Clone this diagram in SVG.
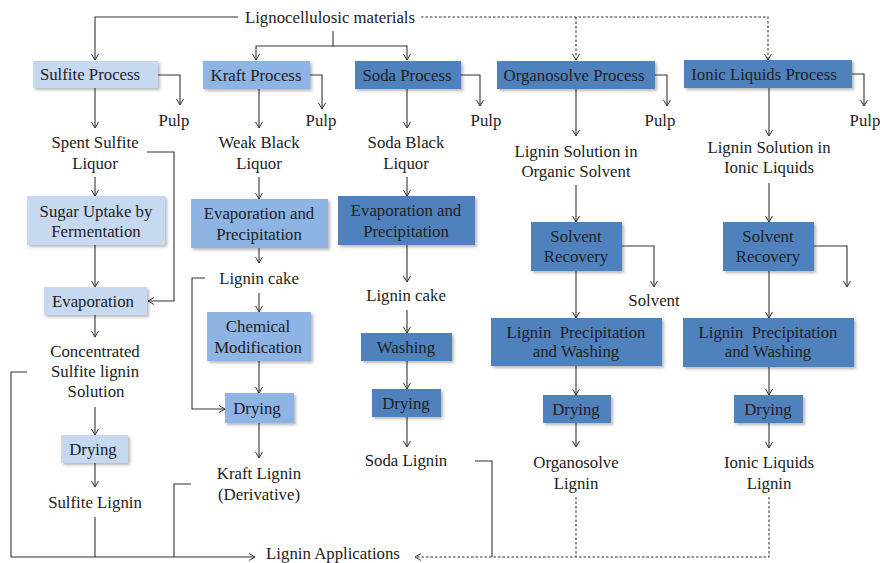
<svg xmlns="http://www.w3.org/2000/svg" width="880" height="563" viewBox="0 0 880 563" font-family="'Liberation Serif', 'DejaVu Serif', serif">
<style>
text{font-family:'Liberation Serif','DejaVu Serif',serif;font-size:16.8px;fill:#222;text-anchor:middle}
.c path{fill:none;stroke:#333;stroke-width:1.1}
.c .d{stroke-dasharray:2.5,2}
.l{fill:#C6D9F1}
.m{fill:#8EB4E3}
.k{fill:#4F81BD}
rect{filter:url(#sh)}
</style>
<defs>
<filter id="sh" x="-10%" y="-15%" width="130%" height="150%">
<feDropShadow dx="2" dy="2" stdDeviation="1.5" flood-color="#000" flood-opacity="0.28"/>
</filter>
<marker id="a" viewBox="0 0 6 8" refX="6" refY="4" markerWidth="6" markerHeight="8" markerUnits="userSpaceOnUse" orient="auto">
<path d="M0,0.5 L6,4 L0,7.5" fill="none" stroke="#333" stroke-width="1"/>
</marker>
</defs>

<g id="connectors" class="c">
<path d="M238,17 H95 V60" marker-end="url(#a)"/>
<path d="M333,31 V46 H256 V60" marker-end="url(#a)"/>
<path d="M333,46 H407 V60" marker-end="url(#a)"/>
<path class="d" d="M421,17 H768 V60" marker-end="url(#a)"/>
<path class="d" d="M576,17 V60" marker-end="url(#a)"/>
<path d="M158,75 H180 V105" marker-end="url(#a)"/>
<path d="M310,75 H322 V109" marker-end="url(#a)"/>
<path d="M461,75 H480 V106" marker-end="url(#a)"/>
<path d="M655,75 H667 V106" marker-end="url(#a)"/>
<path d="M852,74 H864 V106" marker-end="url(#a)"/>
<path d="M95,88 V128" marker-end="url(#a)"/>
<path d="M95,177 V196" marker-end="url(#a)"/>
<path d="M95,245 V287" marker-end="url(#a)"/>
<path d="M147,152 H174 V301 H148" marker-end="url(#a)"/>
<path d="M95,315 V337" marker-end="url(#a)"/>
<path d="M95,407 V435" marker-end="url(#a)"/>
<path d="M95,463 V487" marker-end="url(#a)"/>
<path d="M95,517 V557"/>
<path d="M27,372 H11 V557 H255" marker-end="url(#a)"/>
<path d="M191,484 H174 V557"/>
<path d="M259,89 V128" marker-end="url(#a)"/>
<path d="M259,177 V199" marker-end="url(#a)"/>
<path d="M259,248 V263" marker-end="url(#a)"/>
<path d="M259,293 V312" marker-end="url(#a)"/>
<path d="M259,361 V393" marker-end="url(#a)"/>
<path d="M205,278 H192 V409 H225" marker-end="url(#a)"/>
<path d="M259,423 V458" marker-end="url(#a)"/>
<path d="M407,89 V128" marker-end="url(#a)"/>
<path d="M407,177 V196" marker-end="url(#a)"/>
<path d="M407,245 V282" marker-end="url(#a)"/>
<path d="M407,310 V333" marker-end="url(#a)"/>
<path d="M407,361 V389" marker-end="url(#a)"/>
<path d="M407,417 V447" marker-end="url(#a)"/>
<path d="M475,461 H492 V557"/>
<path d="M576,89 V136" marker-end="url(#a)"/>
<path d="M576,185 V222" marker-end="url(#a)"/>
<path d="M622,246 H654 V287" marker-end="url(#a)"/>
<path d="M576,271 V318" marker-end="url(#a)"/>
<path d="M576,366 V395" marker-end="url(#a)"/>
<path d="M576,423 V447" marker-end="url(#a)"/>
<path class="d" d="M576,497 V557"/>
<path d="M769,88 V136" marker-end="url(#a)"/>
<path d="M769,183 V222" marker-end="url(#a)"/>
<path d="M814,246 H847 V287" marker-end="url(#a)"/>
<path d="M769,271 V318" marker-end="url(#a)"/>
<path d="M769,367 V395" marker-end="url(#a)"/>
<path d="M769,423 V448" marker-end="url(#a)"/>
<path class="d" d="M769,497 V557 H415" marker-end="url(#a)"/>
</g>

<g id="lignocellulosic"><text x="330" y="23">Lignocellulosic materials</text></g>
<g id="applications"><text x="333" y="559">Lignin Applications</text></g>

<g id="sulfite-process"><rect class="l" x="33" y="61" width="125" height="27"/><text x="90" y="80">Sulfite Process</text></g>
<g id="kraft-process"><rect class="m" x="203" y="61" width="107" height="28"/><text x="256" y="81">Kraft Process</text></g>
<g id="soda-process"><rect class="k" x="355" y="61" width="106" height="28"/><text x="407" y="81">Soda Process</text></g>
<g id="organosolve-process"><rect class="k" x="497" y="61" width="158" height="28"/><text x="574" y="81">Organosolve Process</text></g>
<g id="ionic-process"><rect class="k" x="684" y="60" width="168" height="28"/><text x="764" y="80">Ionic Liquids Process</text></g>

<g id="pulp1"><text x="174" y="126">Pulp</text></g>
<g id="pulp2"><text x="321" y="126">Pulp</text></g>
<g id="pulp3"><text x="486" y="126">Pulp</text></g>
<g id="pulp4"><text x="660" y="126">Pulp</text></g>
<g id="pulp5"><text x="865" y="126">Pulp</text></g>

<g id="spent-sulfite"><text x="95" y="148">Spent Sulfite</text><text x="95" y="169">Liquor</text></g>
<g id="sugar-uptake"><rect class="l" x="27" y="196" width="138" height="49"/><text x="96" y="217">Sugar Uptake by</text><text x="96" y="237">Fermentation</text></g>
<g id="evaporation"><rect class="l" x="44" y="287" width="103" height="28"/><text x="93" y="307">Evaporation</text></g>
<g id="concentrated"><text x="95" y="357">Concentrated</text><text x="95" y="377">Sulfite lignin</text><text x="96" y="397">Solution</text></g>
<g id="drying-sulfite"><rect class="l" x="61" y="435" width="67" height="28"/><text x="93" y="455">Drying</text></g>
<g id="sulfite-lignin"><text x="95" y="508">Sulfite Lignin</text></g>

<g id="weak-black"><text x="259" y="148">Weak Black</text><text x="259" y="169">Liquor</text></g>
<g id="evap-kraft"><rect class="m" x="191" y="199" width="137" height="49"/><text x="259" y="219">Evaporation and</text><text x="259" y="240">Precipitation</text></g>
<g id="cake-kraft"><text x="259" y="284">Lignin cake</text></g>
<g id="chemical"><rect class="m" x="207" y="312" width="104" height="49"/><text x="258" y="332">Chemical</text><text x="258" y="353">Modification</text></g>
<g id="drying-kraft"><rect class="m" x="225" y="393" width="69" height="30"/><text x="257" y="414">Drying</text></g>
<g id="kraft-lignin"><text x="259" y="479">Kraft Lignin</text><text x="259" y="500">(Derivative)</text></g>

<g id="soda-black"><text x="406" y="148">Soda Black</text><text x="406" y="169">Liquor</text></g>
<g id="evap-soda"><rect class="k" x="338" y="196" width="137" height="49"/><text x="406" y="216">Evaporation and</text><text x="406" y="237">Precipitation</text></g>
<g id="cake-soda"><text x="406" y="301">Lignin cake</text></g>
<g id="washing"><rect class="k" x="361" y="333" width="91" height="28"/><text x="406" y="353">Washing</text></g>
<g id="drying-soda"><rect class="k" x="372" y="389" width="69" height="28"/><text x="406" y="409">Drying</text></g>
<g id="soda-lignin"><text x="406" y="466">Soda Lignin</text></g>

<g id="sol-organic"><text x="576" y="157">Lignin Solution in</text><text x="576" y="177">Organic Solvent</text></g>
<g id="recovery-org"><rect class="k" x="531" y="222" width="91" height="49"/><text x="576" y="242">Solvent</text><text x="576" y="262">Recovery</text></g>
<g id="solvent"><text x="654" y="306">Solvent</text></g>
<g id="precip-org"><rect class="k" x="491" y="318" width="171" height="48"/><text x="576" y="338" xml:space="preserve">Lignin  Precipitation</text><text x="576" y="357">and Washing</text></g>
<g id="drying-org"><rect class="k" x="543" y="395" width="68" height="28"/><text x="576" y="415">Drying</text></g>
<g id="organosolve-lignin"><text x="576" y="468">Organosolve</text><text x="576" y="489">Lignin</text></g>

<g id="sol-ionic"><text x="769" y="153">Lignin Solution in</text><text x="769" y="173">Ionic Liquids</text></g>
<g id="recovery-ionic"><rect class="k" x="723" y="222" width="91" height="49"/><text x="768" y="242">Solvent</text><text x="768" y="262">Recovery</text></g>
<g id="precip-ionic"><rect class="k" x="683" y="318" width="171" height="49"/><text x="768" y="338" xml:space="preserve">Lignin  Precipitation</text><text x="768" y="357">and Washing</text></g>
<g id="drying-ionic"><rect class="k" x="734" y="395" width="69" height="28"/><text x="768" y="415">Drying</text></g>
<g id="ionic-lignin"><text x="769" y="468">Ionic Liquids</text><text x="769" y="489">Lignin</text></g>
</svg>
